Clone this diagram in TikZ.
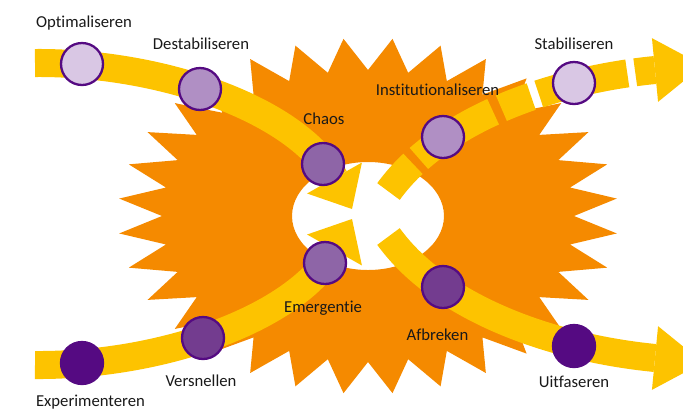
\documentclass[tikz,border=0pt]{standalone}
\usepackage{fontspec}
\setmainfont{Carlito}[Ligatures=NoCommon]
\usetikzlibrary{calc}

\definecolor{fireorange}{RGB}{245,138,0}
\definecolor{bandyellow}{RGB}{253,195,0}
\definecolor{rimpurple}{RGB}{85,10,130}
\definecolor{lilaclight}{RGB}{217,199,228}
\definecolor{lilacmid}{RGB}{176,143,196}
\definecolor{lilacdeep}{RGB}{142,101,167}
\definecolor{lilacdark}{RGB}{115,60,143}
\definecolor{inkgrey}{RGB}{25,25,25}

\tikzset{
  phase/.style={circle, draw=rimpurple, line width=2.3bp, minimum size=42bp, inner sep=0pt},
  band/.style={draw=bandyellow, line width=28bp},
  tag/.style={text=inkgrey, font=\fontsize{16.7bp}{20bp}\selectfont, inner sep=0pt, anchor=base},
}

\begin{document}
\begin{tikzpicture}[x=1bp, y=-1bp]
    \useasboundingbox (0,0) rectangle (683,411);
    \clip (0,0) rectangle (683,411);

    % star with the white hole
    \fill[fireorange, even odd rule] (574,216)
      \foreach \k in {0,...,31}{
        -- ({368+250*cos(11.25*\k+5.625)}, {216-178*sin(11.25*\k+5.625)})
        -- ({368+206*cos(11.25*\k+11.25)}, {216-146*sin(11.25*\k+11.25)})
      } -- cycle
      (368,216) ellipse (76 and 54);

    % band ends
    \coordinate (s1) at (35,63);
    \coordinate (b1) at (334.5,178);
    \coordinate (t1) at (352,209);
    \coordinate (s2) at (35,365);
    \coordinate (b2) at (334.5,250);
    \coordinate (t2) at (352,219);
    \coordinate (s3) at (388.5,191.5);
    \coordinate (b3) at (655,70);
    \coordinate (t3) at (703,65.4);
    \coordinate (s4) at (388.5,236.5);
    \coordinate (b4) at (655,358);
    \coordinate (t4) at (703,362.6);

    \draw[band] (s1) .. controls (160,62) and (295.3,108.4) .. (b1);
    \fill[bandyellow] ($(b1)!31.5bp!90:(t1)$) -- (t1) -- ($(b1)!31.5bp!-90:(t1)$) -- cycle;
    \draw[band] (s2) .. controls (160,366) and (295.3,319.6) .. (b2);
    \fill[bandyellow] ($(b2)!31.5bp!90:(t2)$) -- (t2) -- ($(b2)!31.5bp!-90:(t2)$) -- cycle;
    \draw[band, dash pattern=on 37bp off 8bp on 88bp off 9bp on 32bp off 8bp on 91bp off 8bp on 100bp]
      (s3) .. controls (441,119) and (553,80) .. (b3);
    \fill[bandyellow] ($(b3)!32bp!90:(t3)$) -- (t3) -- ($(b3)!32bp!-90:(t3)$) -- cycle;
    \draw[band] (s4) .. controls (441,309) and (553,348) .. (b4);
    \fill[bandyellow] ($(b4)!32bp!90:(t4)$) -- (t4) -- ($(b4)!32bp!-90:(t4)$) -- cycle;

    % phases
    \node[phase, fill=lilaclight] (opt) at (82,64) {};
    \node[phase, fill=lilacmid] (destab) at (200,89) {};
    \node[phase, fill=lilacdeep] (chaos) at (323,164) {};
    \node[phase, fill=lilacmid] (inst) at (443,137) {};
    \node[phase, fill=lilaclight] (stab) at (574,83) {};
    \node[phase, fill=rimpurple] (exper) at (82,363) {};
    \node[phase, fill=lilacdark] (versn) at (203,338) {};
    \node[phase, fill=lilacdeep] (emerg) at (325,263) {};
    \node[phase, fill=lilacdark] (afbr) at (443,287) {};
    \node[phase, fill=rimpurple] (uitf) at (574,346) {};

    \node[tag] (optlabel) at (84,27.3) {Optimaliseren};
    \node[tag] (destablabel) at (201,49) {Destabiliseren};
    \node[tag] (chaoslabel) at (324,124) {Chaos};
    \node[tag] (instlabel) at (437.5,95) {Institutionaliseren};
    \node[tag] (stablabel) at (574,49.3) {Stabiliseren};
    \node[tag] (experlabel) at (90.5,406.5) {Experimenteren};
    \node[tag] (versnlabel) at (201,386.7) {Versnellen};
    \node[tag] (emerglabel) at (323,312.7) {Emergentie};
    \node[tag] (afbrlabel) at (437.5,340) {Afbreken};
    \node[tag] (uitflabel) at (574,387.7) {Uitfaseren};
\end{tikzpicture}
\end{document}
